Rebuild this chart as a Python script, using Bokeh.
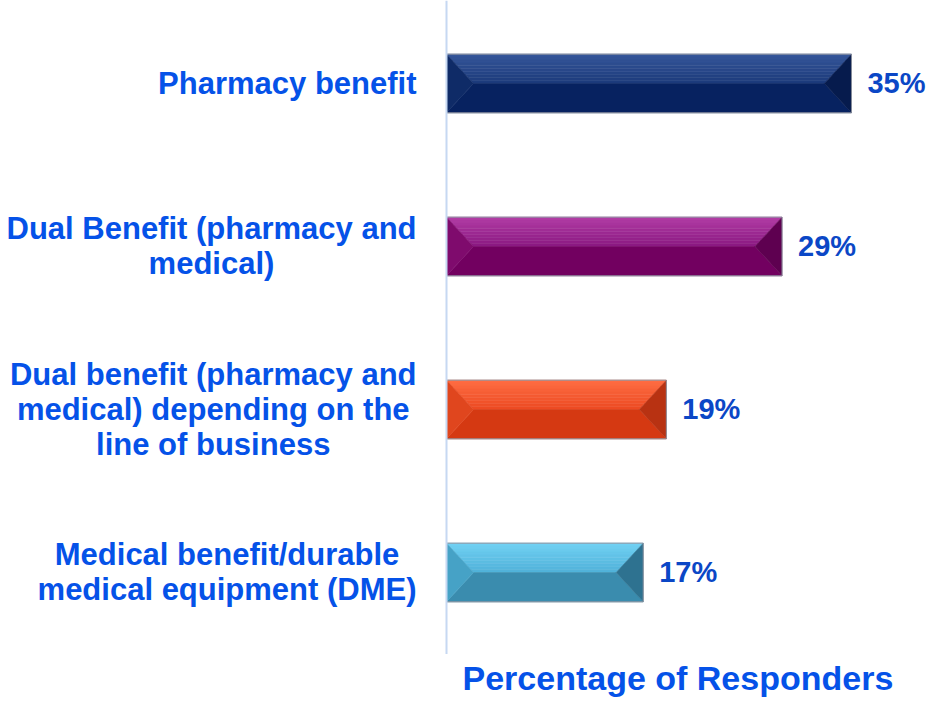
from bokeh.plotting import figure
from bokeh.models import Range1d, ColumnDataSource
from bokeh.core.properties import value
from bokeh.embed import file_html
from bokeh.resources import INLINE

categories = [
    "Pharmacy benefit",
    "Dual Benefit (pharmacy and\nmedical)",
    "Dual benefit (pharmacy and\nmedical) depending on the\nline of business",
    "Medical benefit/durable\nmedical equipment (DME)",
]
values = [35, 29, 19, 17]
value_labels = ["35%", "29%", "19%", "17%"]
axis_title = "Percentage of Responders"

# face colours per bar: top (light), mid (darker), bottom, left, right
top_hi = ["#36579b", "#b23ea6", "#ff6e44", "#72d2f4"]
top_lo = ["#1c3a7a", "#8a1881", "#ec4a22", "#50b1d9"]
bottom_c = ["#072260", "#720060", "#d53912", "#3a8cae"]
left_c = ["#0f2b67", "#7f0b6d", "#e0461e", "#46a2c6"]
right_c = ["#061b4d", "#5e0050", "#b83212", "#2e7290"]


def mix(c1, c2, t):
    a = [int(c1[k:k + 2], 16) for k in (1, 3, 5)]
    b = [int(c2[k:k + 2], 16) for k in (1, 3, 5)]
    return "#" + "".join(f"{round(x + (y - x) * t):02x}" for x, y in zip(a, b))


W, H = 932, 698
PX_PER_UNIT = 11.57
AXIS_PX = 446
x0 = -AXIS_PX / PX_PER_UNIT
x1 = (W - AXIS_PX) / PX_PER_UNIT
y_top, y_bot = -0.509, 3.773

p = figure(width=W, height=H, output_backend="svg", toolbar_location=None,
           x_range=Range1d(x0, x1), y_range=Range1d(y_bot, y_top),
           min_border_left=0, min_border_right=0, min_border_top=0, min_border_bottom=0)
p.axis.visible = False
p.grid.visible = False
p.outline_line_color = None
p.background_fill_color = "white"

n = len(values)
ys = list(range(n))
hh = 0.18                 # half bar height (data units)
bev = 27 / PX_PER_UNIT    # bevel inset (data units)
NB = 10                   # gradient bands in the top face

xs_all, ys_all, cols = [], [], []
for i, (v, c) in enumerate(zip(values, ys)):
    t, m, b = c - hh, c, c + hh
    for k in range(NB):
        f0, f1 = k / NB, (k + 1) / NB
        ya, yb = t + hh * f0, t + hh * f1
        ia, ib = bev * f0, bev * f1
        xs_all.append([ia, v - ia, v - ib, ib])
        ys_all.append([ya, ya, yb, yb])
        cols.append(mix(top_hi[i], top_lo[i], (k + 0.5) / NB))
    xs_all.append([bev, v - bev, v, 0]); ys_all.append([m, m, b, b]); cols.append(bottom_c[i])
    xs_all.append([0, bev, 0]); ys_all.append([t, m, b]); cols.append(left_c[i])
    xs_all.append([v, v - bev, v]); ys_all.append([t, m, b]); cols.append(right_c[i])

p.patches(xs=xs_all, ys=ys_all, fill_color=cols, line_color=cols, line_width=0.5)

src = ColumnDataSource(dict(y=ys, right=values))
p.hbar(y="y", left=0, right="right", height=2 * hh, source=src,
       fill_color=None, line_color="#8a8f9c", line_width=1)

# vertical axis line
p.segment(x0=[0], y0=[y_top], x1=[0], y1=[n - 0.5], line_color="#c6d8f2", line_width=2)

# category labels
p.text(x=[0] * n, y=ys, text=categories, x_offset=-30,
       anchor="center_right", text_align="center", text_baseline="middle",
       text_font=value("Liberation Sans"), text_font_style="bold",
       text_font_size="31px", text_color="#0552e8", text_line_height=1.0)

# value labels
p.text(x=values, y=ys, text=value_labels, x_offset=16,
       text_align="left", text_baseline="middle",
       text_font=value("Liberation Sans"), text_font_style="bold",
       text_font_size="29px", text_color="#0b47c6")

# axis title
p.text(x=[20], y=[3.645], text=[axis_title], text_align="center",
       text_baseline="middle", text_font=value("Liberation Sans"),
       text_font_style="bold", text_font_size="34px", text_color="#0552e8")

open("out.html", "w").write(file_html(p, INLINE))
